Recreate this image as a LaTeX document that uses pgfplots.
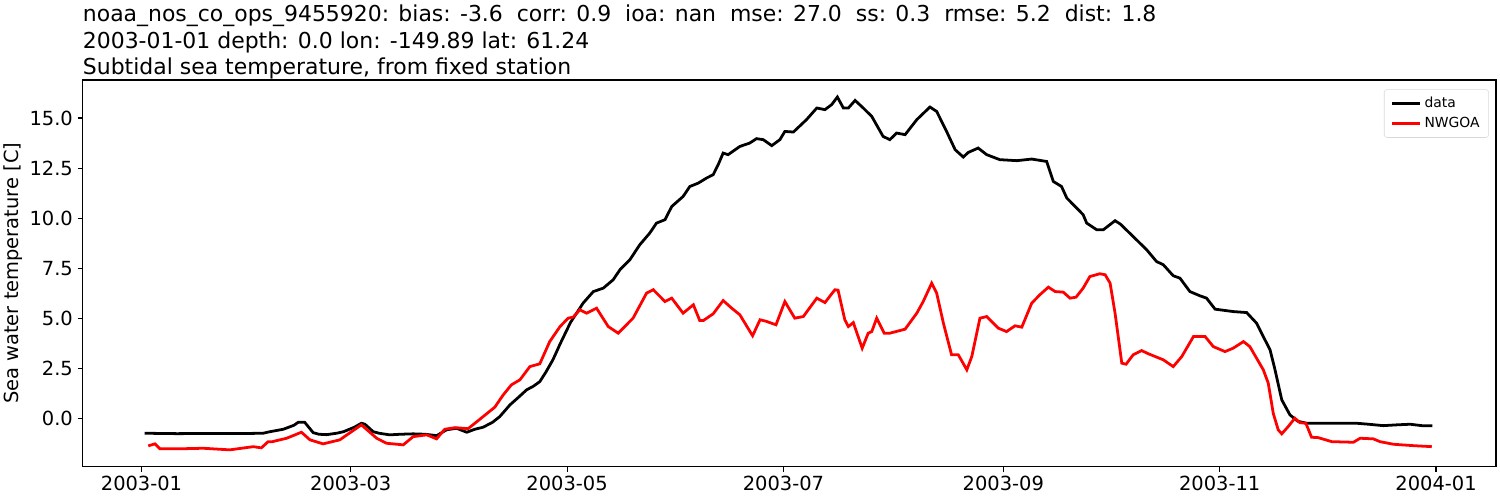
\documentclass[border=0pt]{standalone}
\usepackage{pgfplots}
\pgfplotsset{compat=1.18}
\usepackage{fontspec}
\setmainfont{DejaVu Sans}
\begin{document}
\begin{tikzpicture}
\begin{axis}[
  name=ax, at={(0,0)}, anchor=south west,
  scale only axis, width=1017.6pt, height=278.4pt,
  xmin=-16.6, xmax=381.9, ymin=-2.42, ymax=16.9,
  xtick={0,59,120,181,243,304,365},
  xticklabels={2003-01,2003-03,2003-05,2003-07,2003-09,2003-11,2004-01},
  ytick={0,2.5,5,7.5,10,12.5,15},
  yticklabel style={/pgf/number format/.cd,fixed,fixed zerofill,precision=1},
  /pgf/number format/assume math mode=true,
  tick label style={font=\fontsize{14}{16}\selectfont},
  tick align=outside, major tick length=3.5pt, tick style={black, line width=0.8pt},
  xtick pos=bottom, ytick pos=left,
  axis line style={line width=0.8pt},
  ylabel={Sea water temperature [C]},
  ylabel style={font=\fontsize{14}{16}\selectfont, yshift=-2pt},
  legend style={at={(0.995,0.976)}, anchor=north east, font=\fontsize{10}{12}\selectfont, draw=black!15, rounded corners=2pt, row sep=1.5pt, inner xsep=4.5pt, inner ysep=3.5pt},
  legend cell align=left,
  legend image code/.code={\draw[#1] (0cm,0cm) -- (0.72cm,0cm);},
]
\addplot[black, line width=2pt] coordinates {
(0.9,-0.75) (10,-0.77) (20,-0.76) (30,-0.76) (34.3,-0.75) (36,-0.68) (40,-0.55) (43,-0.35) (44.2,-0.2) (46,-0.2) (48.4,-0.72) (50,-0.8) (52.2,-0.82) (55,-0.75) (57,-0.67) (60,-0.45) (62,-0.25) (63,-0.3) (65.3,-0.67) (67,-0.75) (70,-0.83) (73,-0.8) (76.6,-0.78) (80,-0.8) (83.2,-0.87) (86,-0.58) (88.8,-0.5) (91.7,-0.7) (94,-0.55) (96.3,-0.45) (99,-0.2) (101,0.08) (103.9,0.67) (106,1.0) (108.6,1.42) (110.5,1.6) (112.3,1.83) (114,2.3) (116,2.92) (118,3.7) (119.9,4.4) (121,4.8) (123.6,5.5) (124.5,5.75) (127.4,6.33) (130.2,6.5) (133,6.92) (134.9,7.42) (137.7,7.92) (140.5,8.67) (143.3,9.25) (145.2,9.75) (147.6,9.92) (149.5,10.58) (152.7,11.08) (154.6,11.58) (157,11.75) (159.3,12.0) (161.2,12.17) (162.6,12.67) (164,13.25) (165.4,13.17) (168.7,13.58) (171.5,13.75) (173.4,13.97) (175.3,13.92) (177.7,13.62) (180,13.92) (181.4,14.33) (183.8,14.3) (187.5,14.92) (190.4,15.5) (192.7,15.42) (194.6,15.67) (196.2,16.05) (197.9,15.5) (199.3,15.5) (201.2,15.88) (203.5,15.5) (205.9,15.08) (209.1,14.08) (211,13.92) (212.9,14.25) (215.3,14.17) (218.6,14.92) (222.3,15.55) (224.2,15.33) (227,14.33) (229.4,13.42) (231.7,13.05) (233.1,13.28) (235.9,13.5) (238.3,13.17) (242,12.92) (246.8,12.87) (251,12.95) (255.2,12.83) (257.1,11.83) (259.4,11.58) (260.9,11.0) (263.7,10.5) (265.5,10.17) (266.5,9.75) (269.3,9.42) (271.2,9.42) (274.5,9.87) (276,9.7) (279.6,9.08) (283.4,8.42) (286.2,7.83) (288.1,7.67) (290.9,7.12) (292.8,7.0) (295.6,6.33) (298.4,6.12) (300.3,6.0) (302.7,5.45) (307.8,5.33) (311.6,5.28) (314.4,4.75) (316.3,4.08) (318.2,3.42) (319.6,2.42) (321.5,0.92) (323.8,0.17) (326,-0.15) (328.5,-0.25) (335,-0.25) (342.6,-0.25) (346,-0.3) (350.1,-0.37) (354,-0.33) (357.7,-0.3) (361,-0.37) (364,-0.37)
};
\addlegendentry{data}
\addplot[red, line width=2pt] coordinates {
(1.9,-1.38) (3.8,-1.28) (5.2,-1.53) (10,-1.53) (17.4,-1.5) (24.9,-1.58) (31.5,-1.42) (33.8,-1.48) (35.7,-1.17) (36.9,-1.17) (40.9,-1.0) (45.1,-0.7) (47.5,-1.08) (51.2,-1.28) (55.9,-1.08) (62,-0.33) (66.3,-1.0) (69.1,-1.25) (73.8,-1.33) (76.6,-0.92) (80.4,-0.83) (83.2,-1.03) (85.5,-0.55) (88.4,-0.47) (92.1,-0.52) (95.4,-0.05) (99.6,0.55) (102,1.17) (104.3,1.67) (106.7,1.92) (109.5,2.58) (112.3,2.72) (115.1,3.83) (118,4.58) (120.3,5.0) (121.7,5.05) (123.6,5.42) (125.5,5.25) (128.3,5.5) (131.6,4.58) (134.4,4.25) (138.6,5.0) (142.4,6.25) (144.3,6.42) (147.6,5.83) (149.5,6.0) (152.7,5.25) (155.6,5.67) (157.4,4.88) (158.4,4.88) (161.2,5.22) (164,5.88) (166.4,5.5) (168.7,5.17) (172.3,4.12) (174.4,4.92) (176,4.85) (178.9,4.67) (181.4,5.83) (184.2,5.0) (186.6,5.08) (190.4,6.0) (192.7,5.78) (195.5,6.42) (196.4,6.4) (198.3,4.92) (199.3,4.58) (200.7,4.78) (203.2,3.5) (204.9,4.25) (205.9,4.33) (207.3,5.0) (209.4,4.25) (211,4.25) (215.3,4.45) (218.6,5.25) (220.4,5.83) (222.8,6.75) (224.2,6.25) (226.1,4.75) (228.4,3.17) (230.3,3.17) (232.7,2.42) (234.1,3.08) (236.4,5.0) (238.3,5.08) (241.6,4.5) (243.9,4.33) (246.3,4.62) (248.2,4.55) (251,5.75) (253.3,6.17) (255.7,6.55) (257.6,6.33) (259.9,6.3) (261.8,6.0) (263.5,6.05) (265.5,6.5) (267.4,7.08) (270.2,7.22) (271.7,7.17) (273.1,6.75) (274.5,5.25) (276.4,2.75) (277.6,2.7) (279.6,3.17) (282,3.38) (283.9,3.22) (288.1,2.92) (290.9,2.58) (293.3,3.08) (296.6,4.08) (299.9,4.08) (302.2,3.58) (305.5,3.33) (307.8,3.5) (310.7,3.83) (312.5,3.58) (316.3,2.42) (317.7,1.75) (319.1,0.25) (320.5,-0.58) (321.5,-0.78) (323.3,-0.42) (325.2,0.0) (326.6,-0.22) (328.3,-0.25) (329.9,-0.95) (331.8,-0.97) (335.6,-1.17) (341.7,-1.2) (343.6,-1.0) (347.3,-1.03) (349.2,-1.17) (353,-1.3) (358.6,-1.37) (363.8,-1.42)
};
\addlegendentry{NWGOA}
\end{axis}
\node[anchor=south west, inner sep=0pt, align=left, font=\fontsize{15.8}{19.2}\selectfont] at ([yshift=0.3pt]ax.north west) {noaa\_nos\_co\_ops\_9455920: bias: -3.6\ \ corr: 0.9\ \ ioa: nan\ \ mse: 27.0\ \ ss: 0.3\ \ rmse: 5.2\ \ dist: 1.8\\2003-01-01 depth: 0.0 lon: -149.89 lat: 61.24\\Subtidal sea temperature, from fixed station};
\pgfresetboundingbox
\path[use as bounding box] (-59.5pt,-24pt) rectangle (1020.5pt,336pt);
\end{tikzpicture}
\end{document}
